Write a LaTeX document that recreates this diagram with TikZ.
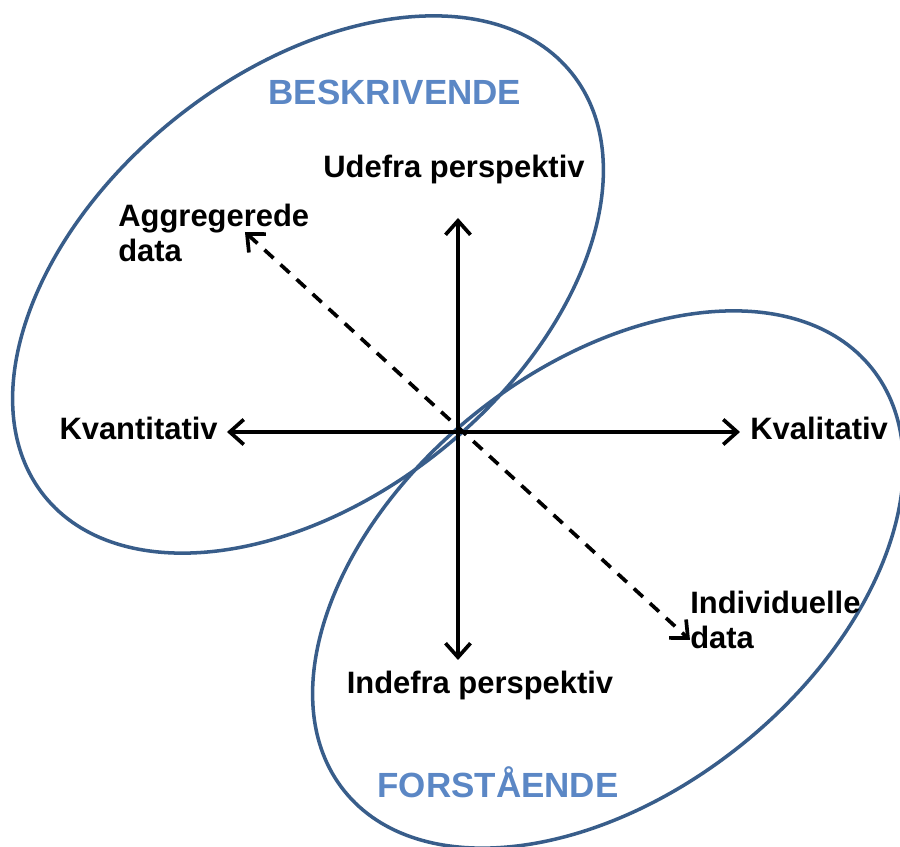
\documentclass[tikz,border=0pt]{standalone}
\usepackage{fontspec}
\setmainfont{Liberation Sans}
\usetikzlibrary{arrows.meta}

\definecolor{ringblue}{HTML}{385D8A}
\definecolor{titleblue}{HTML}{5B87C5}

\tikzset{
  ring/.style={draw=ringblue,line width=2pt},
  axis/.style={line width=2.1pt,{Straight Barb[length=2.8mm,width=5mm]}-{Straight Barb[length=2.8mm,width=5mm]}},
  label/.style={font=\fontsize{17.6}{20}\selectfont\bfseries,inner sep=0pt},
  title/.style={font=\fontsize{19.9}{23}\selectfont\bfseries,text=titleblue,inner sep=0pt}
}

\begin{document}
\begin{tikzpicture}
        \useasboundingbox (-9.16,-8.3) rectangle (8.84,8.64);

        % the two tilted ellipses
        \draw[ring,rotate around={38.7:(-3.0,2.95)}] (-3.0,2.95) ellipse (6.76cm and 4.25cm);
        \draw[ring,rotate around={38.7:(3.0,-2.95)}] (3.0,-2.95) ellipse (6.76cm and 4.25cm);

        \coordinate (o) at (0,0);
        \coordinate (left) at (-4.62,0);
        \coordinate (right) at (5.64,0);
        \coordinate (up) at (0,4.28);
        \coordinate (down) at (0,-4.56);
        \coordinate (agg) at (-4.26,4.0);
        \coordinate (ind) at (4.64,-4.16);

        \draw[axis] (left) -- (right);
        \draw[axis] (down) -- (up);
        \draw[axis,dash pattern=on 7pt off 5.4pt] (agg) -- (ind);

        \node[title] (beskr) at (-1.26,6.8) {BESKRIVENDE};
        \node[title] (forst) at (0.8,-7.0) {FORSTÅENDE};

        \node[label] (udefra) at (-0.08,5.24) {Udefra perspektiv};
        \node[label] (indefra) at (0.44,-5.08) {Indefra perspektiv};
        \node[label,anchor=east] (kvant) at (-4.8,0.08) {Kvantitativ};
        \node[label,anchor=west] (kval) at (5.84,0.08) {Kvalitativ};
        \node[label,anchor=west,align=left] (aggdata) at (-6.8,3.98) {Aggregerede\\data};
        \node[label,anchor=west,align=left] (inddata) at (4.64,-3.76) {Individuelle\\data};
\end{tikzpicture}
\end{document}
